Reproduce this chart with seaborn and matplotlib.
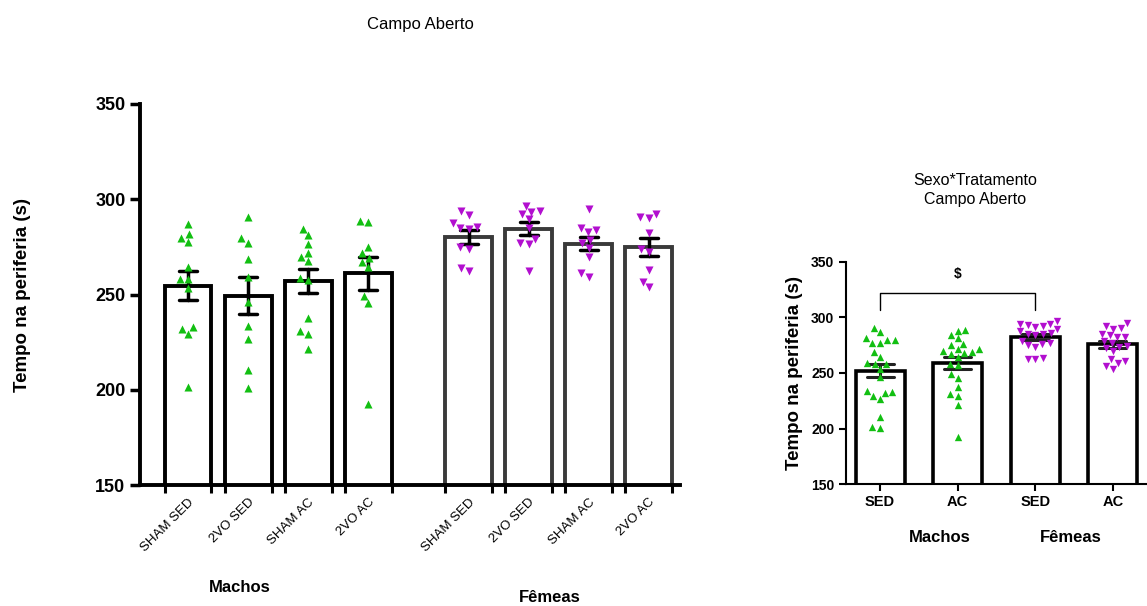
import numpy as np
import pandas as pd
import seaborn as sns
from matplotlib import pyplot as plt

sns.set_style("ticks")
plt.rcParams['font.family'] = ['Liberation Sans', 'DejaVu Sans']
plt.rcParams['text.color'] = 'black'
plt.rcParams['axes.labelcolor'] = 'black'
plt.rcParams['axes.edgecolor'] = 'black'
plt.rcParams['xtick.color'] = 'black'
plt.rcParams['ytick.color'] = 'black'

# grupos e valores individuais (tempo na periferia, s)
grupos = ["SHAM SED", "2VO SED", "SHAM AC", "2VO AC"]

machos_sham_sed = [286.9, 281.6, 279.8, 277.4, 264.6, 258.0, 258.0, 253.4, 232.8, 232.0, 229.3, 201.3]
machos_2vo_sed = [290.8, 279.8, 277.2, 268.5, 259.0, 246.2, 233.5, 226.6, 210.2, 200.9]
machos_sham_ac = [284.4, 281.2, 276.4, 272.0, 269.5, 267.6, 258.5, 257.6, 237.5, 231.0, 229.3, 221.4]
machos_2vo_ac = [287.9, 288.7, 275.1, 271.6, 269.0, 266.9, 264.3, 249.4, 245.7, 192.5]

femeas_sham_sed = [293.8, 291.7, 287.4, 285.1, 285.6, 284.4, 273.7, 274.8, 262.3, 263.8]
femeas_2vo_sed = [296.6, 293.5, 294.0, 292.1, 289.5, 284.9, 279.0, 276.4, 276.9, 262.3]
femeas_sham_ac = [294.9, 285.1, 282.7, 283.9, 278.6, 274.4, 276.9, 269.8, 259.0, 261.1]
femeas_2vo_ac = [290.8, 290.0, 292.3, 282.1, 273.7, 272.1, 262.9, 256.7, 253.8]

verde = "#12bf12"
roxo = "#b20fcf"

# montar tabela
linhas = []
for sexo, listas in [("Machos", [machos_sham_sed, machos_2vo_sed, machos_sham_ac, machos_2vo_ac]),
                     ("Fêmeas", [femeas_sham_sed, femeas_2vo_sed, femeas_sham_ac, femeas_2vo_ac])]:
    for g, vals in zip(grupos, listas):
        for v in vals:
            linhas.append({"sexo": sexo, "grupo": g, "tempo": v})
df = pd.DataFrame(linhas)

# posicoes no eixo x (espaco entre machos e femeas)
gap = 0.67
pos_map = {}
for i, g in enumerate(grupos):
    pos_map[("Machos", g)] = i
    pos_map[("Fêmeas", g)] = i + 4 + gap
df["pos"] = [pos_map[(s, g)] for s, g in zip(df["sexo"], df["grupo"])]
df["trat"] = df["grupo"].str.split(" ").str[1]
df["cond"] = df["sexo"] + " " + df["trat"]

fig = plt.figure(figsize=(11.47, 6.06), dpi=100)

# ---------------- grafico da esquerda ----------------
ax = fig.add_axes([140 / 1147, 121 / 606, 540 / 1147, 381 / 606])
largura = 0.78
for sexo, borda, cor, marc in [("Machos", "black", verde, "^"), ("Fêmeas", "#3a3a3a", roxo, "v")]:
    sub = df[df["sexo"] == sexo]
    sns.barplot(data=sub, x="pos", y="tempo", native_scale=True, width=largura,
                color="white", edgecolor=borda, linewidth=2.8, errorbar="se", capsize=0.3,
                err_kws={"color": "black", "linewidth": 2.5}, ax=ax)
    sns.swarmplot(data=sub, x="pos", y="tempo", native_scale=True, marker=marc,
                  color=cor, size=5.8, linewidth=0, ax=ax)

posicoes = sorted(df["pos"].unique())
ax.set_xlim(-0.8, posicoes[-1] + 0.52)
ax.set_ylim(150, 350)
ax.set_yticks([150, 200, 250, 300, 350])
ax.set_xticks(posicoes)
ax.set_xticklabels(grupos * 2, rotation=45, ha="right", rotation_mode="anchor", fontsize=9.5)
ax.set_xticks([p + d for p in posicoes for d in (-largura / 2, largura / 2)], minor=True)
ax.tick_params(axis="x", which="major", length=0, pad=8)
ax.tick_params(axis="x", which="minor", length=6, width=2.2, color="black")
ax.tick_params(axis="y", length=7, width=2.5, labelsize=13)
for t in ax.get_yticklabels():
    t.set_fontweight("bold")
ax.spines["top"].set_visible(False)
ax.spines["right"].set_visible(False)
ax.spines["left"].set_linewidth(2.8)
ax.spines["bottom"].set_linewidth(2.8)
ax.set_xlabel("")
ax.set_ylabel("Tempo na periferia (s)", fontsize=13.5, fontweight="bold", labelpad=46)

fig.text(420 / 1147, 1 - 25 / 606, "Campo Aberto", ha="center", va="center", fontsize=12)
fig.text(240 / 1147, 1 - 588 / 606, "Machos", ha="center", va="center", fontsize=12, fontweight="bold")
fig.text(550 / 1147, 1 - 597 / 606, "Fêmeas", ha="center", va="center", fontsize=12, fontweight="bold")

# ---------------- grafico da direita ----------------
ax2 = fig.add_axes([846 / 1147, 122 / 606, 301 / 1147, 222 / 606])
ordem = ["Machos SED", "Machos AC", "Fêmeas SED", "Fêmeas AC"]
sns.barplot(data=df, x="cond", y="tempo", order=ordem, width=0.63, color="white",
            edgecolor="black", linewidth=2.6, errorbar="se", capsize=0.35,
            err_kws={"color": "#222222", "linewidth": 2.2}, ax=ax2)
sns.swarmplot(data=df[df["sexo"] == "Machos"], x="cond", y="tempo", order=ordem, marker="^",
              color=verde, size=5.3, linewidth=0, ax=ax2)
sns.swarmplot(data=df[df["sexo"] == "Fêmeas"], x="cond", y="tempo", order=ordem, marker="v",
              color=roxo, size=5.3, linewidth=0, ax=ax2)

# barra de significancia
ax2.plot([0, 0, 2, 2], [307, 322, 322, 307], color="black", linewidth=1)
ax2.text(1, 339, "$", ha="center", va="center", fontsize=10, fontweight="bold")

ax2.set_xlim(-0.44, 3.44)
ax2.set_ylim(150, 350)
ax2.set_yticks([150, 200, 250, 300, 350])
ax2.set_xticks(range(4))
ax2.set_xticklabels(["SED", "AC", "SED", "AC"], fontsize=10.5)
ax2.tick_params(axis="x", length=5, width=1.5, pad=3)
ax2.tick_params(axis="y", length=5, width=1.5, labelsize=10)
for t in ax2.get_yticklabels() + ax2.get_xticklabels():
    t.set_fontweight("bold")
ax2.spines["top"].set_visible(False)
ax2.spines["right"].set_visible(False)
ax2.spines["left"].set_linewidth(1.5)
ax2.spines["bottom"].set_linewidth(1.5)
ax2.set_xlabel("")
ax2.set_ylabel("Tempo na periferia (s)", fontsize=13.5, fontweight="bold", labelpad=6)

fig.text(975 / 1147, 1 - 190 / 606, "Sexo*Tratamento\nCampo Aberto", ha="center", va="center",
         fontsize=11.5, linespacing=1.3)
fig.text(940 / 1147, 1 - 537 / 606, "Machos", ha="center", va="center", fontsize=12, fontweight="bold")
fig.text(1071 / 1147, 1 - 537 / 606, "Fêmeas", ha="center", va="center", fontsize=12, fontweight="bold")

plt.savefig("out.png", dpi=100)
